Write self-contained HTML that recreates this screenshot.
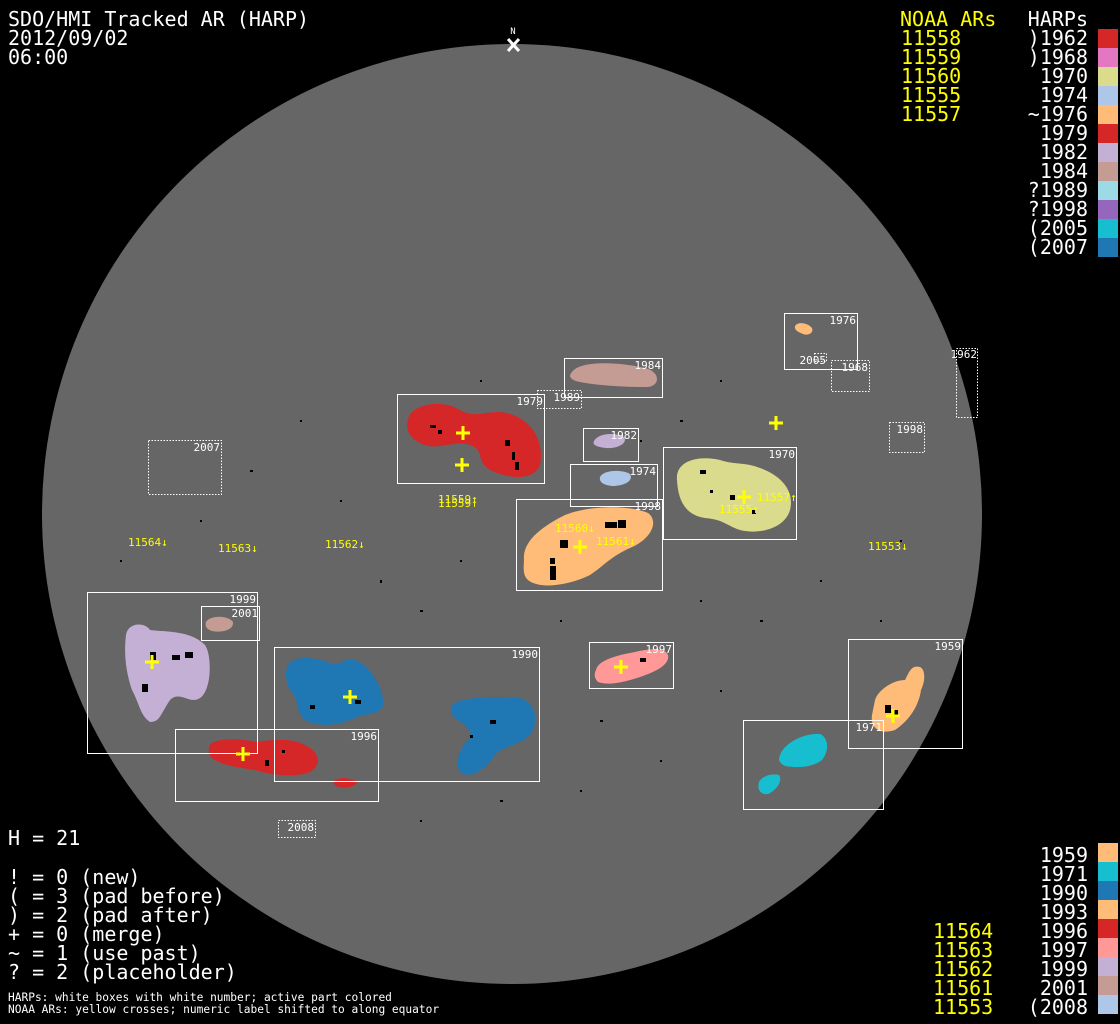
<!DOCTYPE html>
<html><head><meta charset="utf-8"><style>
html,body{margin:0;padding:0;background:#000;}
svg{display:block}
.m{font-family:"DejaVu Sans Mono","Liberation Mono",monospace;}
</style></head><body>
<svg width="1120" height="1024" viewBox="0 0 1120 1024" xmlns="http://www.w3.org/2000/svg" class="m">
<rect width="1120" height="1024" fill="#000"/>
<circle cx="512" cy="514" r="470" fill="#666"/>
<!-- N marker -->
<text x="513" y="34" fill="#fff" font-size="9" text-anchor="middle">N</text>
<path d="M508 39 L519 51 M519 39 L508 51" stroke="#fff" stroke-width="3"/>

<!-- scattered specks -->
<g fill="#000">
<rect x="300" y="420" width="2" height="2"/><rect x="250" y="470" width="3" height="2"/><rect x="340" y="500" width="2" height="2"/>
<rect x="380" y="580" width="2" height="3"/><rect x="420" y="610" width="3" height="2"/><rect x="460" y="560" width="2" height="2"/>
<rect x="700" y="600" width="2" height="2"/><rect x="760" y="620" width="3" height="2"/><rect x="820" y="580" width="2" height="2"/>
<rect x="560" y="620" width="2" height="2"/><rect x="600" y="720" width="3" height="2"/><rect x="660" y="760" width="2" height="2"/>
<rect x="420" y="820" width="2" height="2"/><rect x="500" y="800" width="3" height="2"/><rect x="580" y="790" width="2" height="2"/>
<rect x="200" y="520" width="2" height="2"/><rect x="120" y="560" width="2" height="2"/><rect x="680" y="420" width="3" height="2"/>
<rect x="720" y="380" width="2" height="2"/><rect x="640" y="440" width="2" height="2"/><rect x="480" y="380" width="2" height="2"/>
<rect x="900" y="540" width="2" height="2"/><rect x="880" y="620" width="2" height="2"/><rect x="720" y="690" width="2" height="2"/>
</g>

<!-- blobs -->
<g>
<path d="M408 420 C410 405 440 398 460 410 C475 418 480 412 500 412 C530 415 545 440 540 465 C535 480 510 480 490 470 C475 460 485 450 470 445 C455 440 440 450 425 445 C410 440 405 430 408 420Z" fill="#d62728"/>
<path d="M572 372 C580 360 620 362 645 368 C662 372 660 388 645 387 C620 387 595 385 580 382 C570 380 568 376 572 372Z" fill="#c49c94"/>
<path d="M594 441 C598 433 615 432 624 437 C628 443 618 449 606 448 C597 447 592 445 594 441Z" fill="#c5b0d5"/>
<path d="M600 477 C603 470 622 469 630 474 C634 481 624 486 612 486 C603 485 599 482 600 477Z" fill="#aec7e8"/>
<path d="M524 560 C522 540 545 525 565 515 C590 505 630 505 648 513 C660 522 650 540 630 548 C610 557 605 565 590 575 C570 585 540 590 528 580 C522 575 524 565 524 560Z" fill="#ffbb78"/>
<path d="M677 480 C675 460 700 455 720 460 C735 465 745 462 760 468 C780 475 795 490 790 510 C785 528 760 535 740 530 C725 525 725 520 705 518 C685 515 678 500 677 480Z" fill="#dbdb8d"/>
<path d="M795 326 C798 321 808 323 812 328 C814 333 808 336 803 334 C798 332 794 330 795 326Z" fill="#ffbb78"/>
<path d="M126 635 C128 622 145 622 150 630 C165 632 190 630 205 645 C212 655 212 690 200 698 C190 705 180 690 170 700 C160 715 160 722 150 722 C140 715 140 705 132 690 C125 670 124 650 126 635Z" fill="#c5b0d5"/>
<path d="M206 622 C210 615 228 615 233 622 C234 630 222 633 212 631 C206 629 205 626 206 622Z" fill="#c49c94"/>
<path d="M288 665 C295 655 315 657 330 663 C340 668 345 655 355 660 C370 665 385 690 383 705 C380 715 370 712 355 718 C340 725 320 728 305 720 C295 712 300 700 290 690 C285 680 285 672 288 665Z" fill="#1f77b4"/>
<path d="M452 705 C460 697 495 696 520 698 C535 702 540 720 530 735 C520 745 505 745 495 755 C485 770 470 780 460 772 C455 765 458 750 468 740 C478 730 458 722 452 715Z" fill="#1f77b4"/>
<path d="M210 745 C215 738 240 738 255 742 C270 740 290 737 305 745 C320 752 322 765 310 772 C295 778 270 775 255 770 C240 768 220 765 212 758 C208 754 208 749 210 745Z" fill="#d62728"/>
<path d="M334 781 C338 777 350 777 357 782 C356 787 345 789 338 787 C334 785 333 783 334 781Z" fill="#d62728"/>
<path d="M596 670 C598 660 618 655 635 652 C652 648 665 648 668 655 C670 665 655 672 640 677 C625 682 610 686 598 682 C594 678 594 674 596 670Z" fill="#ff9896"/>
<path d="M875 700 C878 690 893 680 905 680 C910 670 912 665 920 667 C926 670 925 682 921 690 C919 705 910 720 895 730 C880 735 870 728 872 715 Z" fill="#ffbb78"/>
<path d="M780 755 C785 742 805 733 820 734 C828 737 830 750 822 760 C812 768 795 768 785 766 C779 763 778 760 780 755Z" fill="#17becf"/>
<path d="M759 782 C762 776 772 773 779 775 C783 780 777 790 768 794 C760 795 757 789 759 782Z" fill="#17becf"/>
</g>
<!-- spots -->
<g fill="#000">
<rect x="430" y="425" width="6" height="3"/><rect x="438" y="430" width="4" height="4"/><rect x="505" y="440" width="5" height="6"/><rect x="512" y="452" width="3" height="8"/><rect x="515" y="462" width="4" height="8"/>
<rect x="605" y="522" width="12" height="6"/><rect x="618" y="520" width="8" height="8"/><rect x="560" y="540" width="8" height="8"/><rect x="550" y="558" width="5" height="6"/><rect x="550" y="566" width="6" height="14"/>
<rect x="700" y="470" width="6" height="4"/><rect x="730" y="495" width="5" height="5"/><rect x="752" y="510" width="4" height="4"/><rect x="710" y="490" width="3" height="3"/>
<rect x="150" y="652" width="6" height="8"/><rect x="172" y="655" width="8" height="5"/><rect x="185" y="652" width="8" height="6"/><rect x="142" y="684" width="6" height="8"/>
<rect x="355" y="700" width="6" height="4"/><rect x="310" y="705" width="5" height="4"/><rect x="490" y="720" width="6" height="4"/><rect x="470" y="735" width="3" height="3"/>
<rect x="265" y="760" width="4" height="6"/><rect x="240" y="752" width="5" height="4"/><rect x="282" y="750" width="3" height="3"/>
<rect x="885" y="705" width="6" height="8"/><rect x="893" y="710" width="5" height="5"/><rect x="640" y="658" width="6" height="4"/>
</g>

<!-- solid boxes -->
<g fill="none" stroke="#fff" stroke-width="1">
<rect x="397.5" y="394.5" width="147" height="89"/>
<rect x="564.5" y="358.5" width="98" height="39"/>
<rect x="583.5" y="428.5" width="55" height="33"/>
<rect x="570.5" y="464.5" width="87" height="42"/>
<rect x="516.5" y="499.5" width="146" height="91"/>
<rect x="663.5" y="447.5" width="133" height="92"/>
<rect x="784.5" y="313.5" width="73" height="56"/>
<rect x="87.5" y="592.5" width="170" height="161"/>
<rect x="201.5" y="606.5" width="58" height="34"/>
<rect x="274.5" y="647.5" width="265" height="134"/>
<rect x="175.5" y="729.5" width="203" height="72"/>
<rect x="589.5" y="642.5" width="84" height="46"/>
<rect x="848.5" y="639.5" width="114" height="109"/>
<rect x="743.5" y="720.5" width="140" height="89"/>
</g>
<g fill="none" stroke="#fff" stroke-width="1" stroke-dasharray="1.5 1.5">
<rect x="537.5" y="390.5" width="44" height="18"/>
<rect x="148.5" y="440.5" width="73" height="54"/>
<rect x="831.5" y="360.5" width="38" height="31"/>
<rect x="956.5" y="348.5" width="21" height="69"/>
<rect x="889.5" y="422.5" width="35" height="30"/>
<rect x="278.5" y="820.5" width="37" height="17"/>
<rect x="814.5" y="353.5" width="12" height="8"/>
</g>
<g fill="#fff" font-size="11" text-anchor="end">
<text x="543" y="405">1979</text><text x="661" y="369">1984</text><text x="637" y="439">1982</text>
<text x="656" y="475">1974</text><text x="661" y="510">1998</text><text x="795" y="458">1970</text>
<text x="856" y="324">1976</text><text x="256" y="603">1999</text><text x="258" y="617">2001</text>
<text x="538" y="658">1990</text><text x="377" y="740">1996</text><text x="672" y="653">1997</text>
<text x="961" y="650">1959</text><text x="882" y="731">1971</text>
<text x="580" y="401">1989</text><text x="220" y="451">2007</text><text x="868" y="371">1968</text>
<text x="977" y="358">1962</text><text x="923" y="433">1998</text><text x="314" y="831">2008</text><text x="826" y="364">2005</text>
</g>

<!-- crosses -->
<g stroke="#ff0" stroke-width="3">
<path d="M456 433h14M463 426v14"/><path d="M455 465h14M462 458v14"/><path d="M573 547h14M580 540v14"/>
<path d="M769 423h14M776 416v14"/><path d="M737 497h14M744 490v14"/><path d="M145 662h14M152 655v14"/>
<path d="M343 697h14M350 690v14"/><path d="M236 754h14M243 747v14"/><path d="M614 667h14M621 660v14"/>
<path d="M886 716h14M893 709v14"/>
</g>
<g fill="#ff0" font-size="11">
<text x="438" y="503">11559↑</text><text x="438" y="507">11559↑</text>
<text x="128" y="546">11564↓</text><text x="218" y="552">11563↓</text><text x="325" y="548">11562↓</text>
<text x="868" y="550">11553↓</text><text x="555" y="532">11560↓</text><text x="596" y="545">11561↓</text>
<text x="757" y="501">11557↑</text><text x="719" y="513">11555↑</text>
</g>

<!-- top-left -->
<g fill="#fff" font-size="20">
<text x="8" y="26">SDO/HMI Tracked AR (HARP)</text>
<text x="8" y="45">2012/09/02</text>
<text x="8" y="64">06:00</text>
</g>
<!-- top-right legend -->
<g font-size="20">
<text x="900" y="26" fill="#ff0">NOAA ARs</text>
<g fill="#ff0"><text x="901" y="45">11558</text><text x="901" y="64">11559</text><text x="901" y="83">11560</text><text x="901" y="102">11555</text><text x="901" y="121">11557</text></g>
<text x="1088" y="26" fill="#fff" text-anchor="end">HARPs</text>
<g fill="#fff" text-anchor="end">
<text x="1088" y="45">)1962</text><text x="1088" y="64">)1968</text><text x="1088" y="83">1970</text><text x="1088" y="102">1974</text>
<text x="1088" y="121">~1976</text><text x="1088" y="140">1979</text><text x="1088" y="159">1982</text><text x="1088" y="178">1984</text>
<text x="1088" y="197">?1989</text><text x="1088" y="216">?1998</text><text x="1088" y="235">(2005</text><text x="1088" y="254">(2007</text>
</g>
</g>
<g>
<rect x="1098" y="29" width="20" height="19" fill="#d62728"/><rect x="1098" y="48" width="20" height="19" fill="#e377c2"/>
<rect x="1098" y="67" width="20" height="19" fill="#dbdb8d"/><rect x="1098" y="86" width="20" height="19" fill="#aec7e8"/>
<rect x="1098" y="105" width="20" height="19" fill="#ffbb78"/><rect x="1098" y="124" width="20" height="19" fill="#d62728"/>
<rect x="1098" y="143" width="20" height="19" fill="#c5b0d5"/><rect x="1098" y="162" width="20" height="19" fill="#c49c94"/>
<rect x="1098" y="181" width="20" height="19" fill="#9edae5"/><rect x="1098" y="200" width="20" height="19" fill="#9467bd"/>
<rect x="1098" y="219" width="20" height="19" fill="#17becf"/><rect x="1098" y="238" width="20" height="19" fill="#1f77b4"/>
</g>
<!-- bottom-right legend -->
<g font-size="20">
<g fill="#fff" text-anchor="end">
<text x="1088" y="862">1959</text><text x="1088" y="881">1971</text><text x="1088" y="900">1990</text><text x="1088" y="919">1993</text>
<text x="1088" y="938">1996</text><text x="1088" y="957">1997</text><text x="1088" y="976">1999</text><text x="1088" y="995">2001</text><text x="1088" y="1014">(2008</text>
</g>
<g fill="#ff0"><text x="933" y="938">11564</text><text x="933" y="957">11563</text><text x="933" y="976">11562</text><text x="933" y="995">11561</text><text x="933" y="1014">11553</text></g>
</g>
<g>
<rect x="1098" y="843" width="20" height="19" fill="#ffbb78"/><rect x="1098" y="862" width="20" height="19" fill="#17becf"/>
<rect x="1098" y="881" width="20" height="19" fill="#1f77b4"/><rect x="1098" y="900" width="20" height="19" fill="#ffbb78"/>
<rect x="1098" y="919" width="20" height="19" fill="#d62728"/><rect x="1098" y="938" width="20" height="19" fill="#ff9896"/>
<rect x="1098" y="957" width="20" height="19" fill="#c5b0d5"/><rect x="1098" y="976" width="20" height="19" fill="#c49c94"/>
<rect x="1098" y="995" width="20" height="19" fill="#aec7e8"/>
</g>
<!-- bottom-left -->
<g fill="#fff" font-size="20">
<text x="8" y="845">H = 21</text>
<text x="8" y="884">! = 0 (new)</text>
<text x="8" y="903">( = 3 (pad before)</text>
<text x="8" y="922">) = 2 (pad after)</text>
<text x="8" y="941">+ = 0 (merge)</text>
<text x="8" y="960">~ = 1 (use past)</text>
<text x="8" y="979">? = 2 (placeholder)</text>
</g>
<g fill="#fff" font-size="11.2">
<text x="8" y="1001">HARPs: white boxes with white number; active part colored</text>
<text x="8" y="1013">NOAA ARs: yellow crosses; numeric label shifted to along equator</text>
</g>
</svg>
</body></html>
